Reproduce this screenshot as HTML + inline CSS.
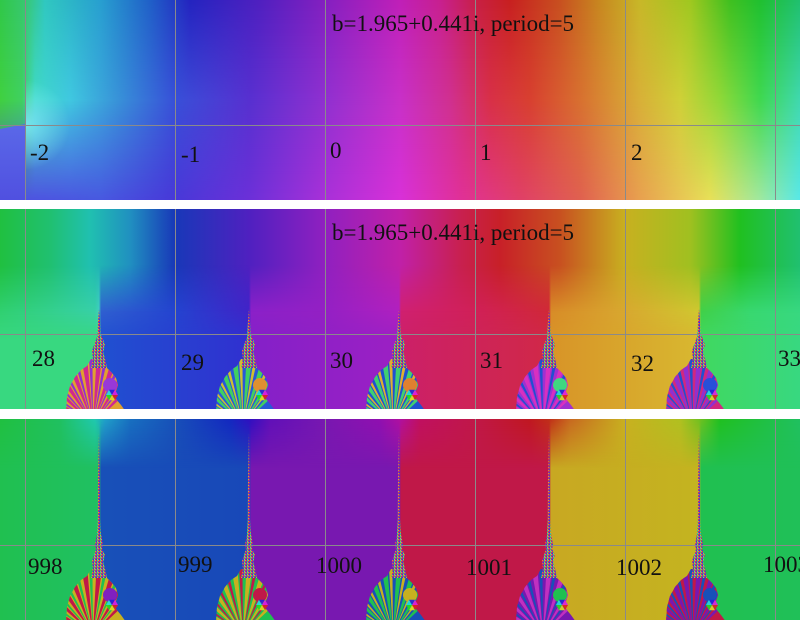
<!DOCTYPE html>
<html><head><meta charset="utf-8">
<style>html,body{margin:0;padding:0;background:#fff;width:800px;height:620px;overflow:hidden}svg{display:block}</style>
</head><body>
<svg width="800" height="620" viewBox="0 0 800 620" xmlns="http://www.w3.org/2000/svg">
<defs>
<linearGradient id="p1a" gradientUnits="userSpaceOnUse" x1="0" y1="0" x2="800" y2="0">
<stop offset="0" stop-color="#30c848"/><stop offset=".031" stop-color="#38c870"/><stop offset=".056" stop-color="#30c8c0"/><stop offset=".125" stop-color="#28a0d0"/><stop offset=".1875" stop-color="#2060c8"/><stop offset=".2375" stop-color="#2424c0"/><stop offset=".325" stop-color="#5020c0"/><stop offset=".4125" stop-color="#8820c0"/><stop offset=".5" stop-color="#c020b8"/><stop offset=".55" stop-color="#c82090"/><stop offset=".6" stop-color="#c82040"/><stop offset=".6375" stop-color="#c82020"/><stop offset=".7" stop-color="#c85020"/><stop offset=".75" stop-color="#c88820"/><stop offset=".8" stop-color="#c8b828"/><stop offset=".8625" stop-color="#a0c820"/><stop offset=".9125" stop-color="#40c020"/><stop offset=".95" stop-color="#20c030"/><stop offset="1" stop-color="#20c070"/>
</linearGradient>
<linearGradient id="p1b" gradientUnits="userSpaceOnUse" x1="0" y1="0" x2="800" y2="0">
<stop offset="0" stop-color="#40d040"/><stop offset=".0275" stop-color="#40d060"/><stop offset=".04375" stop-color="#40d8c8"/><stop offset=".0875" stop-color="#40c8e0"/><stop offset=".15" stop-color="#3890d8"/><stop offset=".21875" stop-color="#3850d8"/><stop offset=".3125" stop-color="#5830d0"/><stop offset=".40625" stop-color="#9030d0"/><stop offset=".5" stop-color="#c830c8"/><stop offset=".5625" stop-color="#d03090"/><stop offset=".6125" stop-color="#d83048"/><stop offset=".6625" stop-color="#d84030"/><stop offset=".725" stop-color="#d87030"/><stop offset=".8" stop-color="#d8b038"/><stop offset=".85" stop-color="#d0d038"/><stop offset=".9" stop-color="#90d838"/><stop offset=".95" stop-color="#40d850"/><stop offset="1" stop-color="#40d8b0"/>
</linearGradient>
<linearGradient id="p1c" gradientUnits="userSpaceOnUse" x1="0" y1="0" x2="800" y2="0">
<stop offset="0" stop-color="#5050e0"/><stop offset=".125" stop-color="#4858e0"/><stop offset=".21875" stop-color="#4838d8"/><stop offset=".3125" stop-color="#6c30d8"/><stop offset=".40625" stop-color="#a830d8"/><stop offset=".5" stop-color="#d830d8"/><stop offset=".575" stop-color="#e03098"/><stop offset=".65" stop-color="#e04068"/><stop offset=".725" stop-color="#e06050"/><stop offset=".8" stop-color="#e8a050"/><stop offset=".8875" stop-color="#e8e058"/><stop offset=".95" stop-color="#a0e8a0"/><stop offset="1" stop-color="#58e8e8"/>
</linearGradient>
<linearGradient id="v1b" gradientUnits="userSpaceOnUse" x1="0" y1="0" x2="0" y2="100"><stop offset="0" stop-color="#fff" stop-opacity="0"/><stop offset="1" stop-color="#fff" stop-opacity="1"/></linearGradient>
<linearGradient id="v1c" gradientUnits="userSpaceOnUse" x1="0" y1="100" x2="0" y2="200"><stop offset="0" stop-color="#fff" stop-opacity="0"/><stop offset="1" stop-color="#fff" stop-opacity="1"/></linearGradient>
<mask id="m1b" maskUnits="userSpaceOnUse" x="0" y="0" width="800" height="200"><rect x="0" y="0" width="800" height="200" fill="url(#v1b)"/></mask>
<mask id="m1c" maskUnits="userSpaceOnUse" x="0" y="0" width="800" height="200"><rect x="0" y="0" width="800" height="200" fill="url(#v1c)"/></mask>
<linearGradient id="lft" gradientUnits="userSpaceOnUse" x1="0" y1="125" x2="0" y2="200"><stop offset="0" stop-color="#5a68e8"/><stop offset="1" stop-color="#5050e0"/></linearGradient>
<radialGradient id="glow" gradientUnits="userSpaceOnUse" cx="25" cy="125" r="45"><stop offset="0" stop-color="#80eef8" stop-opacity=".85"/><stop offset="1" stop-color="#80eef8" stop-opacity="0"/></radialGradient>

<linearGradient id="p2a" gradientUnits="userSpaceOnUse" x1="0" y1="0" x2="800" y2="0">
<stop offset="0" stop-color="#20c040"/><stop offset=".0625" stop-color="#20c070"/><stop offset=".1125" stop-color="#20c0b0"/><stop offset=".1625" stop-color="#2090c0"/><stop offset=".21875" stop-color="#1838b8"/><stop offset=".3125" stop-color="#5020c0"/><stop offset=".40625" stop-color="#9020c0"/><stop offset=".5" stop-color="#c020a8"/><stop offset=".575" stop-color="#c82050"/><stop offset=".625" stop-color="#c82028"/><stop offset=".7" stop-color="#c85020"/><stop offset=".78125" stop-color="#c8b020"/><stop offset=".8625" stop-color="#a0c020"/><stop offset=".925" stop-color="#20c020"/><stop offset="1" stop-color="#20c070"/>
</linearGradient>
<linearGradient id="p2b" gradientUnits="userSpaceOnUse" x1="0" y1="0" x2="800" y2="0">
<stop offset="0" stop-color="#30d070"/><stop offset=".11875" stop-color="#38d0a8"/><stop offset=".12375" stop-color="#40d0c0"/><stop offset=".12625" stop-color="#3060d0"/><stop offset=".21875" stop-color="#2444d0"/><stop offset=".31125" stop-color="#4024c8"/><stop offset=".31375" stop-color="#8c20c8"/><stop offset=".40625" stop-color="#9420c4"/><stop offset=".49875" stop-color="#b020c0"/><stop offset=".50125" stop-color="#d02070"/><stop offset=".59375" stop-color="#d02058"/><stop offset=".68625" stop-color="#d02838"/><stop offset=".68875" stop-color="#d88c28"/><stop offset=".78125" stop-color="#d8a830"/><stop offset=".87375" stop-color="#d0c830"/><stop offset=".87625" stop-color="#40d048"/><stop offset=".9375" stop-color="#38d870"/><stop offset="1" stop-color="#38d880"/>
</linearGradient>
<linearGradient id="p2c" gradientUnits="userSpaceOnUse" x1="0" y1="0" x2="800" y2="0">
<stop offset="0" stop-color="#38d880"/><stop offset=".12375" stop-color="#38d880"/><stop offset=".12625" stop-color="#2050d0"/><stop offset=".31125" stop-color="#3030d0"/><stop offset=".31375" stop-color="#8420c8"/><stop offset=".49875" stop-color="#9c20c4"/><stop offset=".50125" stop-color="#cc2068"/><stop offset=".68625" stop-color="#d02848"/><stop offset=".68875" stop-color="#d89428"/><stop offset=".87375" stop-color="#d8b830"/><stop offset=".87625" stop-color="#40d860"/><stop offset="1" stop-color="#38d880"/>
</linearGradient>
<linearGradient id="v2b" gradientUnits="userSpaceOnUse" x1="0" y1="265" x2="0" y2="312"><stop offset="0" stop-color="#fff" stop-opacity="0"/><stop offset="1" stop-color="#fff" stop-opacity="1"/></linearGradient>
<linearGradient id="v2c" gradientUnits="userSpaceOnUse" x1="0" y1="310" x2="0" y2="340"><stop offset="0" stop-color="#fff" stop-opacity="0"/><stop offset="1" stop-color="#fff" stop-opacity="1"/></linearGradient>
<mask id="m2b" maskUnits="userSpaceOnUse" x="0" y="209" width="800" height="200"><rect x="0" y="209" width="800" height="200" fill="url(#v2b)"/></mask>
<mask id="m2c" maskUnits="userSpaceOnUse" x="0" y="209" width="800" height="200"><rect x="0" y="209" width="800" height="200" fill="url(#v2c)"/></mask>

<linearGradient id="p3base" gradientUnits="userSpaceOnUse" x1="0" y1="0" x2="800" y2="0">
<stop offset="0" stop-color="#20c050"/><stop offset=".12375" stop-color="#20c062"/><stop offset=".12625" stop-color="#1850b8"/><stop offset=".31125" stop-color="#1848b8"/><stop offset=".31375" stop-color="#7818b0"/><stop offset=".49875" stop-color="#7818b0"/><stop offset=".50125" stop-color="#c01848"/><stop offset=".68625" stop-color="#c01848"/><stop offset=".68875" stop-color="#c8a822"/><stop offset=".87375" stop-color="#c4b420"/><stop offset=".87625" stop-color="#20c050"/><stop offset="1" stop-color="#20c058"/>
</linearGradient>
<linearGradient id="p3top" gradientUnits="userSpaceOnUse" x1="0" y1="0" x2="800" y2="0">
<stop offset="0" stop-color="#20c040"/><stop offset=".075" stop-color="#20c060"/><stop offset=".11875" stop-color="#20c8b0"/><stop offset=".13125" stop-color="#20a0c8"/><stop offset=".1625" stop-color="#1870c0"/><stop offset=".21875" stop-color="#1850b8"/><stop offset=".2875" stop-color="#1428c0"/><stop offset=".3125" stop-color="#3010c0"/><stop offset=".3375" stop-color="#6010b8"/><stop offset=".40625" stop-color="#7818b0"/><stop offset=".475" stop-color="#9010b0"/><stop offset=".5" stop-color="#b010a0"/><stop offset=".525" stop-color="#c01060"/><stop offset=".59375" stop-color="#c01848"/><stop offset=".6625" stop-color="#c01820"/><stop offset=".6875" stop-color="#c03018"/><stop offset=".7125" stop-color="#c86820"/><stop offset=".78125" stop-color="#c8b020"/><stop offset=".85" stop-color="#b0c020"/><stop offset=".875" stop-color="#70c020"/><stop offset=".9" stop-color="#20c020"/><stop offset="1" stop-color="#20c060"/>
</linearGradient>
<linearGradient id="v3t" gradientUnits="userSpaceOnUse" x1="0" y1="419" x2="0" y2="468"><stop offset="0" stop-color="#fff" stop-opacity="1"/><stop offset="1" stop-color="#fff" stop-opacity="0"/></linearGradient>
<mask id="m3t" maskUnits="userSpaceOnUse" x="0" y="419" width="800" height="201"><rect x="0" y="419" width="800" height="201" fill="url(#v3t)"/></mask>

<pattern id="sp" width="3" height="3" patternUnits="userSpaceOnUse">
<rect x="0" y="0" width="1" height="1" fill="#d03060"/><rect x="1" y="0" width="1" height="1" fill="#30b0d0"/><rect x="2" y="0" width="1" height="1" fill="#d0b030"/>
<rect x="0" y="1" width="1" height="1" fill="#8030c0"/><rect x="1" y="1" width="1" height="1" fill="#40c060"/><rect x="2" y="1" width="1" height="1" fill="#d03060"/>
<rect x="0" y="2" width="1" height="1" fill="#2050d0"/><rect x="1" y="2" width="1" height="1" fill="#d0b030"/><rect x="2" y="2" width="1" height="1" fill="#8030c0"/>
</pattern>
<clipPath id="bc"><path d="M-8 150 L-12 157 L-18 161 L-24 168 L-29 177 L-32 188 L-33 203 L27 203 L22 196 L17 190 L13 186 L17 182 L19 176 L17 169 L13 164 L8 159 L6 150 Z"/></clipPath>
<path id="wb" d="M-6 215 L-83.3 194.3 L-81.2 187.6 Z M-6 215 L-76.6 177.5 L-73.1 171.4 Z M-6 215 L-66.4 162.5 L-61.6 157.5 Z M-6 215 L-53 150.3 L-47.2 146.4 Z M-6 215 L-37.3 141.3 L-30.7 138.9 Z M-6 215 L-19.9 136.2 L-13 135.3 Z M-6 215 L-1.8 135.1 L5.1 135.8 Z M-6 215 L16.1 138.1 L22.6 140.3 Z M-6 215 L32.8 145 L38.7 148.7 Z M-6 215 L47.5 155.6 L52.5 160.4 Z"/>
<path id="wc" d="M-6 215 L-80.4 185.6 L-78.8 181.8 Z M-6 215 L-71.9 169.7 L-69.4 166.3 Z M-6 215 L-60.1 156 L-56.9 153.2 Z M-6 215 L-45.4 145.4 L-41.7 143.4 Z M-6 215 L-28.7 138.3 L-24.6 137.2 Z M-6 215 L-10.9 135.2 L-6.7 135 Z M-6 215 L7.2 136.1 L11.3 136.9 Z M-6 215 L24.6 141.1 L28.5 142.8 Z M-6 215 L40.5 149.9 L43.8 152.4 Z"/>
<g id="cn" opacity=".9">
<path d="M13 186 L19 186 L16 191.2Z" fill="#e02020"/><path d="M13 186 L16 191.2 L10 191.2Z" fill="#e0e020"/><path d="M13 186 L10 191.2 L7 186Z" fill="#20e020"/><path d="M13 186 L7 186 L10 180.8Z" fill="#20e0e0"/><path d="M13 186 L10 180.8 L16 180.8Z" fill="#2020e0"/><path d="M13 186 L16 180.8 L19 186Z" fill="#e020e0"/>
</g>
<path id="spS" d="M0 100 L1 112 L1.5 125 L4 130 L6 136 L4 142 L6 150 L8 159 L-8 159 L-6 150 L-7 142 L-5 136 L-2 128 L-1 112 Z"/>
<path id="spL" d="M0 14 L0.8 60 L1 100 L1.5 112 L3 120 L4 126 L3 130 L6 136 L4 142 L6 150 L8 159 L-8 159 L-6 150 L-7 142 L-5 136 L-3 130 L-4 126 L-2 115 L-1.2 100 L-1 60 Z"/>
</defs>

<!-- Panel 1 -->
<rect x="0" y="0" width="800" height="200" fill="url(#p1a)"/>
<rect x="0" y="0" width="800" height="200" fill="url(#p1b)" mask="url(#m1b)"/>
<rect x="0" y="0" width="800" height="200" fill="url(#p1c)" mask="url(#m1c)"/>
<polygon points="0,129 25,124 25,200 0,200" fill="url(#lft)"/>
<rect x="25" y="80" width="60" height="90" fill="url(#glow)"/>

<!-- Panel 2 -->
<rect x="0" y="209" width="800" height="200" fill="url(#p2a)"/>
<rect x="0" y="209" width="800" height="200" fill="url(#p2b)" mask="url(#m2b)"/>
<rect x="0" y="209" width="800" height="200" fill="url(#p2c)" mask="url(#m2c)"/>

<!-- Panel 3 -->
<rect x="0" y="419" width="800" height="201" fill="url(#p3base)"/>
<rect x="0" y="419" width="800" height="201" fill="url(#p3top)" mask="url(#m3t)"/>

<!-- Panel 2 blobs -->
<g transform="translate(99,209)">
<g clip-path="url(#bc)"><rect x="-40" y="140" width="80" height="65" fill="#e0a030"/><use href="#wb" fill="#d02890"/><use href="#wc" fill="#9030d0"/><circle cx="11" cy="176" r="7" fill="#9838d8"/></g>
<use href="#spS" fill="url(#sp)"/><circle cx="1" cy="140" r="4" fill="url(#sp)"/><use href="#cn"/></g>
<g transform="translate(249,209)">
<g clip-path="url(#bc)"><rect x="-40" y="140" width="80" height="65" fill="#2858d8"/><use href="#wb" fill="#40d060"/><use href="#wc" fill="#d0c030"/><circle cx="11" cy="176" r="7" fill="#e09030"/></g>
<use href="#spS" fill="url(#sp)"/><circle cx="1" cy="140" r="4" fill="url(#sp)"/><use href="#cn"/></g>
<g transform="translate(399,209)">
<g clip-path="url(#bc)"><rect x="-40" y="140" width="80" height="65" fill="#2050d0"/><use href="#wb" fill="#40d070"/><use href="#wc" fill="#e0b030"/><circle cx="11" cy="176" r="7" fill="#e08030"/></g>
<use href="#spS" fill="url(#sp)"/><circle cx="1" cy="140" r="4" fill="url(#sp)"/><use href="#cn"/></g>
<g transform="translate(549,209)">
<g clip-path="url(#bc)"><rect x="-40" y="140" width="80" height="65" fill="#a030d0"/><use href="#wb" fill="#d830c0"/><use href="#wc" fill="#2050d0"/><circle cx="11" cy="176" r="7" fill="#40d880"/></g>
<use href="#spS" fill="url(#sp)"/><circle cx="1" cy="140" r="4" fill="url(#sp)"/><use href="#cn"/></g>
<g transform="translate(699,209)">
<g clip-path="url(#bc)"><rect x="-40" y="140" width="80" height="65" fill="#d02880"/><use href="#wb" fill="#9030d0"/><use href="#wc" fill="#2050d0"/><circle cx="11" cy="176" r="7" fill="#2850d8"/></g>
<use href="#spS" fill="url(#sp)"/><circle cx="1" cy="140" r="4" fill="url(#sp)"/><use href="#cn"/></g>

<!-- Panel 3 blobs -->
<g transform="translate(99,419)">
<g clip-path="url(#bc)"><rect x="-40" y="140" width="80" height="65" fill="#c8b020"/><use href="#wb" fill="#c01848"/><use href="#wc" fill="#20c050"/><circle cx="11" cy="176" r="7" fill="#8020c0"/></g>
<use href="#spL" fill="url(#sp)"/><circle cx="1" cy="140" r="4" fill="url(#sp)"/><use href="#cn"/></g>
<g transform="translate(249,419)">
<g clip-path="url(#bc)"><rect x="-40" y="140" width="80" height="65" fill="#20c050"/><use href="#wb" fill="#c8b020"/><use href="#wc" fill="#c01848"/><circle cx="11" cy="176" r="7" fill="#c01848"/></g>
<use href="#spL" fill="url(#sp)"/><circle cx="1" cy="140" r="4" fill="url(#sp)"/><use href="#cn"/></g>
<g transform="translate(399,419)">
<g clip-path="url(#bc)"><rect x="-40" y="140" width="80" height="65" fill="#1850b8"/><use href="#wb" fill="#20c050"/><use href="#wc" fill="#c8b020"/><circle cx="11" cy="176" r="7" fill="#c8b020"/></g>
<use href="#spL" fill="url(#sp)"/><circle cx="1" cy="140" r="4" fill="url(#sp)"/><use href="#cn"/></g>
<g transform="translate(549,419)">
<g clip-path="url(#bc)"><rect x="-40" y="140" width="80" height="65" fill="#7818b0"/><use href="#wb" fill="#c030c0"/><use href="#wc" fill="#1850b8"/><circle cx="11" cy="176" r="7" fill="#20c050"/></g>
<use href="#spL" fill="url(#sp)"/><circle cx="1" cy="140" r="4" fill="url(#sp)"/><use href="#cn"/></g>
<g transform="translate(699,419)">
<g clip-path="url(#bc)"><rect x="-40" y="140" width="80" height="65" fill="#c01848"/><use href="#wb" fill="#7818b0"/><use href="#wc" fill="#1850b8"/><circle cx="11" cy="176" r="7" fill="#1850b8"/></g>
<use href="#spL" fill="url(#sp)"/><circle cx="1" cy="140" r="4" fill="url(#sp)"/><use href="#cn"/></g>

<!-- grid -->
<g fill="#8a8a8a">
<rect x="25" y="0" width="1" height="200"/><rect x="175" y="0" width="1" height="200"/><rect x="325" y="0" width="1" height="200"/><rect x="475" y="0" width="1" height="200"/><rect x="625" y="0" width="1" height="200"/><rect x="775" y="0" width="1" height="200"/>
<rect x="0" y="125" width="800" height="1"/>
<rect x="25" y="209" width="1" height="200"/><rect x="175" y="209" width="1" height="200"/><rect x="325" y="209" width="1" height="200"/><rect x="475" y="209" width="1" height="200"/><rect x="625" y="209" width="1" height="200"/><rect x="775" y="209" width="1" height="200"/>
<rect x="0" y="334" width="800" height="1"/>
<rect x="25" y="419" width="1" height="201"/><rect x="175" y="419" width="1" height="201"/><rect x="325" y="419" width="1" height="201"/><rect x="475" y="419" width="1" height="201"/><rect x="625" y="419" width="1" height="201"/><rect x="775" y="419" width="1" height="201"/>
<rect x="0" y="545" width="800" height="1"/>
</g>

<!-- white separators -->
<rect x="0" y="200" width="800" height="9" fill="#fff"/>
<rect x="0" y="409" width="800" height="10" fill="#fff"/>

<!-- text -->
<g font-family="'Liberation Serif', 'DejaVu Serif', serif" font-size="23" fill="#111">
<text x="332" y="31">b=1.965+0.441i, period=5</text>
<text x="332" y="240">b=1.965+0.441i, period=5</text>
<text x="30" y="160">-2</text>
<text x="181" y="162">-1</text>
<text x="330" y="158">0</text>
<text x="480" y="160">1</text>
<text x="631" y="160">2</text>
<text x="32" y="366">28</text>
<text x="181" y="370">29</text>
<text x="330" y="368">30</text>
<text x="480" y="368">31</text>
<text x="631" y="371">32</text>
<text x="778" y="366">33</text>
<text x="28" y="574">998</text>
<text x="178" y="572">999</text>
<text x="316" y="573">1000</text>
<text x="466" y="575">1001</text>
<text x="616" y="575">1002</text>
<text x="763" y="572">1003</text>
</g>
</svg>
</body></html>
